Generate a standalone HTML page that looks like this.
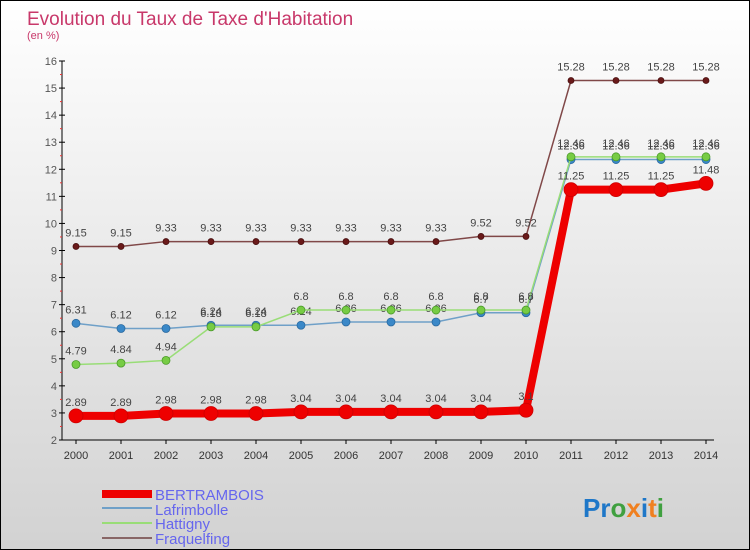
<!DOCTYPE html>
<html><head><meta charset="utf-8"><style>
body{margin:0;}
#c{position:relative;width:748px;height:548px;border:1px solid #000;background:linear-gradient(#ffffff,#d2d2d2);overflow:hidden;font-family:"Liberation Sans",sans-serif;}
</style></head><body>
<div id="c">
<svg id="s" width="748" height="548" xmlns="http://www.w3.org/2000/svg">
<text x="26" y="24" font-size="19" fill="#c8386a">Evolution du Taux de Taxe d'Habitation</text>
<text x="26" y="38" font-size="11" fill="#c8386a">(en %)</text>
<g id="axes"></g><g id="series"></g>
<g>
<rect x="101" y="489" width="50" height="8" fill="#ee0000"/>
<text x="154" y="499" font-size="15" fill="#6666ee">BERTRAMBOIS</text>
<line x1="101" y1="507" x2="151" y2="507" stroke="#6fa0c8" stroke-width="2"/>
<text x="154" y="514" font-size="15" fill="#6666ee">Lafrimbolle</text>
<line x1="101" y1="522" x2="151" y2="522" stroke="#99dd77" stroke-width="2"/>
<text x="154" y="528" font-size="15" fill="#6666ee">Hattigny</text>
<line x1="101" y1="537" x2="151" y2="537" stroke="#886666" stroke-width="2"/>
<text x="154" y="543" font-size="15" fill="#6666ee">Fraquelfing</text>
</g>
<text x="582" y="516" font-size="26" font-weight="bold"><tspan fill="#1e77c8">Pr</tspan><tspan fill="#40a040">o</tspan><tspan fill="#f08020">x</tspan><tspan fill="#1e77c8">i</tspan><tspan fill="#f08020">t</tspan><tspan fill="#40a040">i</tspan></text>
</svg>
</div>
<script>
const years=[2000,2001,2002,2003,2004,2005,2006,2007,2008,2009,2010,2011,2012,2013,2014];
const yTicks=[2,3,4,5,6,7,8,9,10,11,12,13,14,15,16];
const bertrambois=[2.89,2.89,2.98,2.98,2.98,3.04,3.04,3.04,3.04,3.04,3.1,11.25,11.25,11.25,11.48];
const lafrimbolle=[6.31,6.12,6.12,6.24,6.24,6.24,6.36,6.36,6.36,6.7,6.7,12.36,12.36,12.36,12.36];
const hattigny=[4.79,4.84,4.94,6.18,6.18,6.8,6.8,6.8,6.8,6.8,6.8,12.46,12.46,12.46,12.46];
const fraquelfing=[9.15,9.15,9.33,9.33,9.33,9.33,9.33,9.33,9.33,9.52,9.52,15.28,15.28,15.28,15.28];
const NS="http://www.w3.org/2000/svg";
const X=i=>75+i*45;
const Y=v=>439-(v-2)*(379/14);
function mk(tag,attrs,parent){const e=document.createElementNS(NS,tag);for(const k in attrs)e.setAttribute(k,attrs[k]);parent.appendChild(e);return e;}
const ax=document.getElementById('axes');
let l=mk('line',{x1:61,y1:Y(16),x2:61,y2:Y(2),stroke:'#000'},ax);


l=mk('line',{x1:61,y1:Y(2),x2:X(14)+8,y2:Y(2),stroke:'#000'},ax);


yTicks.forEach(v=>{
 mk('line',{x1:58,y1:Y(v),x2:64,y2:Y(v),stroke:'#000'},ax);
 if(v<16) mk('line',{x1:59,y1:Y(v+0.5),x2:61,y2:Y(v+0.5),stroke:'#e33'},ax);
 const t=mk('text',{x:56,y:Y(v)+4,'font-size':11,'text-anchor':'end',fill:'#555'},ax);t.textContent=v;
 
 
});
years.forEach((yr,i)=>{
 mk('line',{x1:X(i),y1:Y(2),x2:X(i),y2:Y(2)+4,stroke:'#000'},ax);
 const t=mk('text',{x:X(i),y:Y(2)+19,'font-size':11,'text-anchor':'middle',fill:'#333'},ax);t.textContent=yr;
 
 
});
const sg=document.getElementById('series');
function series(name,vals,color,dot,w,r,stroke){
 const g=mk('g',{},sg);
 
 
 mk('polyline',{points:vals.map((v,i)=>X(i)+','+Y(v)).join(' '),fill:'none',stroke:color,'stroke-width':w},g);
 vals.forEach((v,i)=>{
  const c=mk('circle',{cx:X(i),cy:Y(v),r:r,fill:dot,stroke:stroke,'stroke-width':0.8},g);
  
  
  const t=mk('text',{x:X(i),y:Y(v)-10,'font-size':11,'text-anchor':'middle',fill:'#444'},g);t.textContent=v;
  
  
 });
}
series('fraquelfing',fraquelfing,'#804848','#6a1a1a',1.5,3,'#4a1010');
series('lafrimbolle',lafrimbolle,'#6fa0c8','#3a88c8',1.5,4,'#2a6aa0');
series('hattigny',hattigny,'#99dd77','#77cc44',1.5,4,'#4a9a2a');
series('bertrambois',bertrambois,'#ee0000','#ee0000',8,7,'#cc0000');
</script>
</body></html>
